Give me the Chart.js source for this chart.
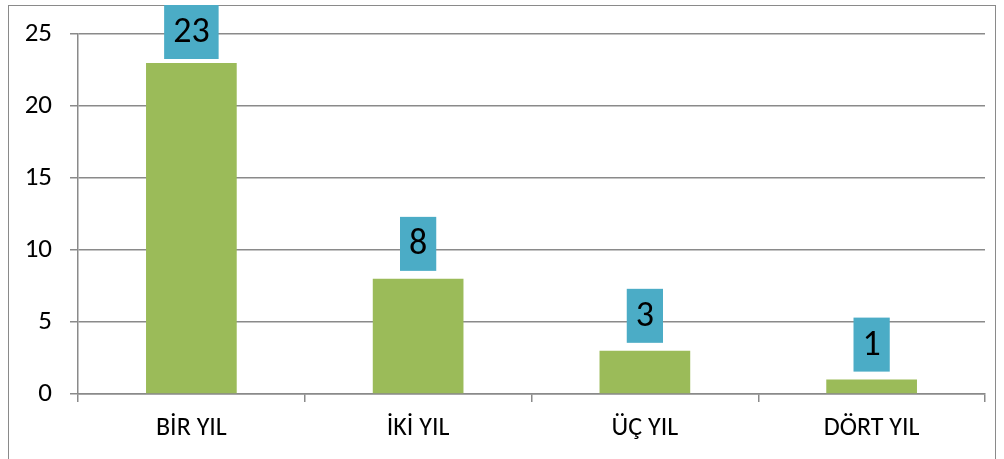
<!DOCTYPE html>
<html lang="tr">
<head>
    <meta charset="UTF-8">
    <title>Yıl dağılımı</title>
    <style>
        body { margin: 0; background: #fff; width: 1004px; height: 459px; overflow: hidden; position: relative; }
        .frame { position: absolute; left: 8px; top: 5px; width: 988px; height: 470px; border: 1.5px solid #8a8a8a; box-sizing: border-box; }
        .wrap { position: absolute; left: 0; top: 0; width: 1004px; height: 459px; }
    </style>
</head>
<body>
    <div class="frame"></div>
    <div class="wrap"><canvas id="chart"></canvas></div>

    <script src="https://cdn.jsdelivr.net/npm/chart.js"></script>
    <script>
        const categories = ['BİR YIL', 'İKİ YIL', 'ÜÇ YIL', 'DÖRT YIL'];
        const values = [23, 8, 3, 1];
        const yTicks = [0, 5, 10, 15, 20, 25];

        const FONT = "Carlito, 'Open Sans', sans-serif";

        // teal value boxes above each bar
        const valueBoxes = {
            id: 'valueBoxes',
            afterDatasetsDraw(chart) {
                const ctx = chart.ctx;
                const meta = chart.getDatasetMeta(0);
                ctx.save();
                ctx.font = '36px ' + FONT;
                ctx.textAlign = 'center';
                ctx.textBaseline = 'middle';
                meta.data.forEach((bar, i) => {
                    const txt = String(values[i]);
                    const w = ctx.measureText(txt).width + 18;
                    const h = 54;
                    let top = bar.y - 8 - h;
                    if (top < 5) top = 5;
                    ctx.fillStyle = '#4BACC6';
                    ctx.fillRect(bar.x - w / 2, top, w, h);
                    ctx.fillStyle = '#000';
                    ctx.fillText(txt, bar.x, top + h / 2 + 1);
                });
                ctx.restore();
            }
        };

        new Chart(document.getElementById('chart').getContext('2d'), {
            type: 'bar',
            data: {
                labels: categories,
                datasets: [{
                    data: values,
                    backgroundColor: '#9BBB59',
                    categoryPercentage: 0.4,
                    barPercentage: 1
                }]
            },
            options: {
                responsive: true,
                maintainAspectRatio: false,
                animation: false,
                devicePixelRatio: 1,
                layout: { padding: { left: 0, top: 34, right: 19, bottom: 0 } },
                plugins: { legend: { display: false }, tooltip: { enabled: false } },
                scales: {
                    x: {
                        grid: { drawOnChartArea: false, drawTicks: true, tickLength: 8, color: '#8a8a8a', lineWidth: 1.5, offset: true },
                        border: { color: '#8a8a8a', width: 1.5 },
                        ticks: { color: '#000', font: { family: FONT, size: 26 }, padding: 11, maxRotation: 0 },
                        afterFit(scale) { scale.height = 65; }
                    },
                    y: {
                        min: 0,
                        max: 25,
                        afterBuildTicks(scale) { scale.ticks = yTicks.map(v => ({ value: v })); },
                        grid: { color: '#8a8a8a', lineWidth: 1.5, tickLength: 8 },
                        border: { color: '#8a8a8a', width: 1.5 },
                        ticks: { color: '#000', font: { family: FONT, size: 27 }, padding: 18 },
                        afterFit(scale) { scale.width = 78; }
                    }
                }
            },
            plugins: [valueBoxes]
        });
    </script>
</body>
</html>
